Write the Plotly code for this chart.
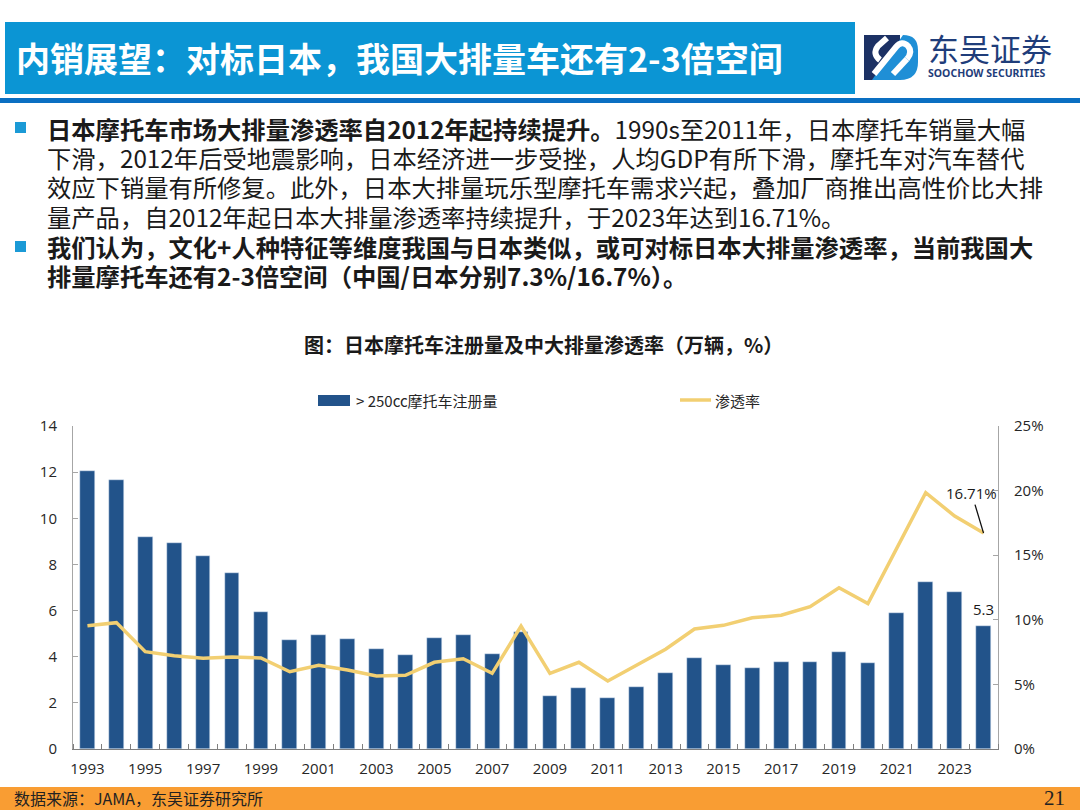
import plotly.graph_objects as go

# ---- data ----
years = list(range(1993, 2025))
registrations = [12.05, 11.64, 9.2, 8.91, 8.37, 7.62, 5.95, 4.74, 4.92, 4.78,
                 4.35, 4.06, 4.81, 4.92, 4.1, 5.05, 2.3, 2.63, 2.19, 2.67,
                 3.28, 3.93, 3.63, 3.51, 3.76, 3.76, 4.2, 3.74, 5.91, 7.22,
                 6.82, 5.35]
penetration = [9.54, 9.78, 7.53, 7.22, 7.02, 7.12, 7.04, 5.98, 6.48, 6.11,
               5.65, 5.7, 6.71, 6.99, 5.86, 9.52, 5.86, 6.71, 5.26, 6.5,
               7.72, 9.29, 9.57, 10.16, 10.35, 11.01, 12.48, 11.25, 15.5, 19.84,
               18.03, 16.71]
tick_years = list(range(1993, 2025, 2))
tick_labels = [str(y) for y in tick_years]
last_bar_label = "5.3"
last_rate_label = "16.71%"

title = "内销展望：对标日本，我国大排量车还有2-3倍空间"
body_lines = [
    "<b>日本摩托车市场大排量渗透率自2012年起持续提升。</b>1990s至2011年，日本摩托车销量大幅",
    "下滑，2012年后受地震影响，日本经济进一步受挫，人均GDP有所下滑，摩托车对汽车替代",
    "效应下销量有所修复。此外，日本大排量玩乐型摩托车需求兴起，叠加厂商推出高性价比大排",
    "量产品，自2012年起日本大排量渗透率持续提升，于2023年达到16.71%。",
    "<b>我们认为，文化+人种特征等维度我国与日本类似，或可对标日本大排量渗透率，当前我国大</b>",
    "<b>排量摩托车还有2-3倍空间（中国/日本分别7.3%/16.7%）。</b>",
]
chart_title = "图：日本摩托车注册量及中大排量渗透率（万辆，%）"
bar_name = "> 250cc摩托车注册量"
line_name = "渗透率"
source = "数据来源：JAMA，东吴证券研究所"
page_no = "21"

BAR = "#22538a"
LINE = "#f2cf72"
CJK = "Noto Sans CJK SC"

# plot area in page pixels
L, R, T, B = 73, 998, 426, 749


def px(x):
    return (x - L) / (R - L)


def py(y):
    return (B - y) / (B - T)


def path(cmds):
    out = []
    for c in cmds:
        op, pts = c[0], c[1:]
        out.append(op + " " + " ".join("%.5f,%.5f" % (px(a), py(b)) for a, b in pts))
    return " ".join(out)


def rect(x0, y0, x1, y1, color):
    return dict(type="rect", xref="paper", yref="paper", x0=px(x0), x1=px(x1),
                y0=py(y1), y1=py(y0), fillcolor=color, line=dict(width=0), layer="above")


def text(x, y, s, size, color="#1a1a1a", xanchor="left", family=CJK):
    return dict(xref="paper", yref="paper", x=px(x), y=py(y), text=s, showarrow=False,
                xanchor=xanchor, yanchor="middle", font=dict(family=family, size=size, color=color))


fig = go.Figure()
fig.add_trace(go.Bar(x=years, y=registrations, name=bar_name, marker_color=BAR,
                     width=0.51, yaxis="y"))
fig.add_trace(go.Scatter(x=years, y=penetration, name=line_name, mode="lines",
                         line=dict(color=LINE, width=3.5), yaxis="y2"))

shapes = [
    rect(5, 22, 855, 94, "#0b95d4"),
    rect(0, 98, 1080, 103, "#0a6fc2"),
    rect(15, 122, 26, 133, "#1b9ad6"),
    rect(15, 241, 26, 252, "#1b9ad6"),
    rect(0, 787, 1080, 810, "#f99d33"),
    # logo emblem
    rect(864, 35, 900, 80, "#1c3164"),
    dict(type="path", xref="paper", yref="paper", fillcolor="#1f8fd6", line=dict(width=0),
         path=path([("M", (872, 80)), ("L", (900, 80)), ("Q", (918, 80), (918, 62)),
                    ("L", (918, 50)), ("Q", (918, 35), (903, 35)), ("Z",)])),
    dict(type="path", xref="paper", yref="paper", line=dict(color="white", width=6),
         path=path([("M", (874, 74)), ("L", (896, 47)), ("Q", (902, 40), (908, 46)),
                    ("Q", (913, 52), (907, 59))])),
    dict(type="path", xref="paper", yref="paper", line=dict(color="white", width=6),
         path=path([("M", (907, 59)), ("L", (893, 74))])),
    dict(type="path", xref="paper", yref="paper", line=dict(color="white", width=6),
         path=path([("M", (880, 60)), ("Q", (872, 54), (878, 46)), ("L", (887, 38))])),
    # legend marks
    rect(318, 395, 350, 406, BAR),
    dict(type="line", xref="paper", yref="paper", x0=px(680), x1=px(711), y0=py(400), y1=py(400),
         line=dict(color=LINE, width=3.5)),
]

annotations = [
    text(14, 57, "<b>" + title + "</b>", 34, color="white"),
    text(926, 48, "东吴证券", 31, color="#1f3d7a"),
    text(926, 73, "<b>SOOCHOW SECURITIES</b>", 10.5, color="#1f3d7a", family="Noto Sans"),
    text(543, 344, "<b>" + chart_title + "</b>", 20, xanchor="center"),
    text(354, 400, bar_name, 15, color="#262626"),
    text(713, 400, line_name, 15, color="#262626"),
    text(12, 798, source, 16, color="#222222"),
    text(1054, 798, page_no, 21, color="#222222", xanchor="center", family="Liberation Serif"),
]
for i, s in enumerate(body_lines):
    annotations.append(text(45, 128 + i * 29.5, s, 24.3))

annotations.append(dict(x=years[-1], y=penetration[-1], xref="x", yref="y2", text=last_rate_label,
                        showarrow=True, arrowhead=0, arrowwidth=1.3, arrowcolor="#111111",
                        ax=-12, ay=-40, font=dict(family="Open Sans", size=15, color="#1a1a1a")))
annotations.append(dict(x=years[-1], y=registrations[-1], xref="x", yref="y", text=last_bar_label,
                        showarrow=False, yanchor="bottom", yshift=5,
                        font=dict(family="Open Sans", size=15, color="#1a1a1a")))

fig.update_layout(
    width=1080, height=810,
    margin=dict(l=L, r=1080 - R, t=T, b=810 - B, pad=0),
    paper_bgcolor="white", plot_bgcolor="white",
    showlegend=False, bargap=0,
    shapes=shapes, annotations=annotations,
    xaxis=dict(range=[1992.5, 2024.5], tickvals=tick_years, ticktext=tick_labels,
               ticks="", showline=True, linecolor="#7f7f7f", linewidth=1.2,
               showgrid=False, zeroline=False, ticklabelstandoff=6,
               tickfont=dict(family="Open Sans", size=15, color="#262626"),
               minor=dict(dtick=1, tick0=1992.5, ticks="inside", ticklen=5,
                          tickcolor="#7f7f7f", showgrid=False)),
    yaxis=dict(range=[0, 14], dtick=2, ticks="inside", ticklen=5, tickcolor="#a6a6a6",
               showline=True, linecolor="#a6a6a6", showgrid=False, zeroline=False,
               ticklabelstandoff=12,
               tickfont=dict(family="Open Sans", size=15, color="#262626")),
    yaxis2=dict(range=[0, 25], dtick=5, ticksuffix="%", overlaying="y", side="right",
                ticks="inside", ticklen=5, tickcolor="#a6a6a6",
                showline=True, linecolor="#a6a6a6", showgrid=False, zeroline=False,
                ticklabelstandoff=12,
                tickfont=dict(family="Open Sans", size=15, color="#262626")),
)

# the page body has a default 8px margin; drop it so the figure fills the window
fig.write_html("out.html", config={"displayModeBar": False},
               post_script="document.body.style.margin='0';")
